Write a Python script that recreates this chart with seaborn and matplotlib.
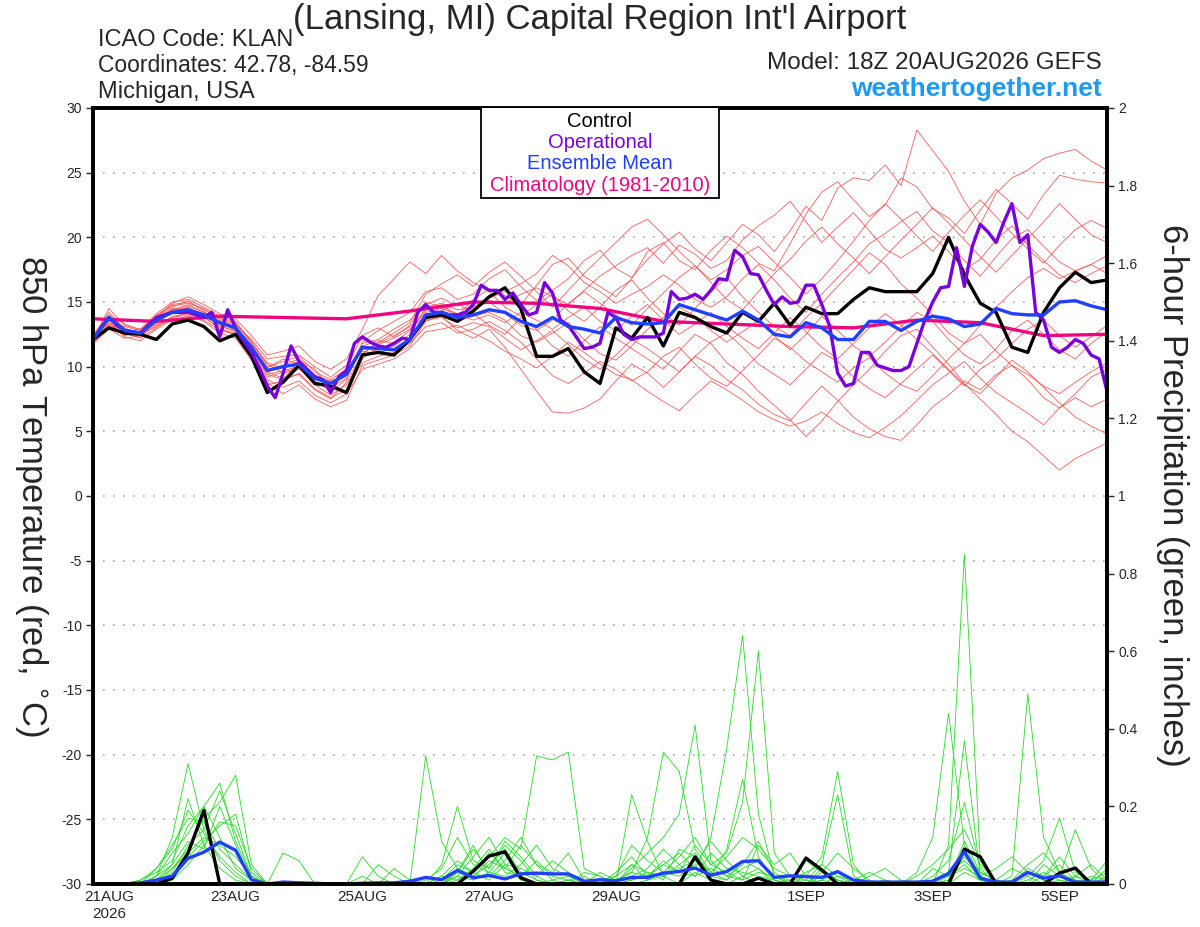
import numpy as np
import pandas as pd
import matplotlib
matplotlib.use("Agg")
import matplotlib.pyplot as plt
import seaborn as sns
from matplotlib import font_manager
from matplotlib.patches import Rectangle

# ---- data -------------------------------------------------------------
run_start = "2026-08-20 18:00"
times6 = pd.date_range(run_start, periods=65, freq="6h")
times3 = pd.date_range(run_start, periods=129, freq="3h")
clim_times = pd.date_range(run_start, periods=17, freq="24h")

tick_dates = pd.to_datetime(["2026-08-21", "2026-08-23", "2026-08-25", "2026-08-27",
                             "2026-08-29", "2026-09-01", "2026-09-03", "2026-09-05"])
tick_labels = ["21AUG\n2026", "23AUG", "25AUG", "27AUG", "29AUG", "1SEP", "3SEP", "5SEP"]

control_temp = [12.1, 13.0, 12.6, 12.5, 12.1, 13.3, 13.6, 13.1, 12.0, 12.5, 10.8, 8.0, 8.8,
                10.1, 8.7, 8.5, 8.0, 10.9, 11.1, 10.9, 12.1, 13.8, 14.0, 13.5, 14.3, 15.4,
                16.1, 14.5, 10.8, 10.8, 11.4, 9.6, 8.7, 13.0, 12.2, 13.8, 11.6, 14.2, 13.8,
                13.1, 12.6, 14.2, 13.5, 14.9, 13.2, 14.6, 14.1, 14.1, 15.2, 16.1, 15.8, 15.8,
                15.8, 17.2, 20.0, 17.1, 14.9, 14.2, 11.5, 11.1, 14.2, 16.1, 17.3, 16.5, 16.7]

mean_temp = [12.1, 13.8, 12.8, 12.6, 13.6, 14.2, 14.4, 14.0, 13.4, 13.0, 11.5, 9.7, 10.0,
             10.2, 9.1, 8.7, 9.4, 11.5, 11.4, 11.3, 12.1, 14.0, 14.2, 13.8, 14.0, 14.4,
             14.2, 13.5, 13.1, 13.8, 13.1, 12.9, 12.6, 13.8, 13.4, 13.3, 13.4, 14.8, 14.4,
             14.0, 13.6, 14.3, 13.6, 12.5, 12.3, 13.4, 13.0, 12.1, 12.1, 13.5, 13.5, 12.8,
             13.5, 13.9, 13.7, 13.1, 13.3, 14.5, 14.1, 14.0, 14.0, 15.0, 15.1, 14.7, 14.4]

# operational run is 3-hourly
oper_temp = [12.1, 13.0, 13.8, 13.2, 12.8, 12.7, 12.6, 13.2, 13.8, 14.0, 14.2, 14.2, 14.2,
             14.0, 13.8, 14.2, 12.3, 14.4, 13.0, 12.0, 11.1, 9.9, 8.5, 7.6, 9.5, 11.6,
             10.4, 9.8, 9.2, 9.0, 8.0, 9.2, 9.7, 11.8, 12.3, 11.9, 11.6, 11.5, 11.8,
             12.2, 12.1, 14.2, 14.8, 14.2, 14.2, 14.0, 14.0, 14.2, 14.8, 16.3, 15.9, 15.9,
             15.2, 15.7, 14.8, 14.0, 14.2, 16.5, 15.7, 13.6, 13.2, 12.3, 11.4, 11.5, 11.8,
             14.2, 13.8, 12.5, 12.1, 12.3, 12.3, 12.3, 12.6, 15.8, 15.2, 15.3, 15.6, 15.2,
             15.9, 16.8, 16.7, 19.0, 18.5, 17.2, 17.1, 15.9, 14.8, 15.4, 14.9, 15.0, 16.3,
             16.3, 14.8, 13.1, 9.5, 8.5, 8.7, 11.1, 11.1, 10.1, 9.9, 9.7, 9.7, 10.0,
             11.8, 13.6, 15.0, 16.1, 16.2, 19.2, 16.2, 19.3, 21.0, 20.4, 19.6, 21.2, 22.6,
             19.6, 20.2, 14.2, 13.6, 11.5, 11.1, 11.5, 12.1, 11.8, 10.9, 10.6, 8.1]

clim_temp = [13.7, 13.5, 13.9, 13.8, 13.7, 14.3, 15.0, 14.9, 14.5, 13.5, 13.3, 13.1,
             13.0, 13.6, 13.4, 12.4, 12.5]

member_temp = [
    [12.0, 14.5, 13.2, 12.9, 14.1, 15.0, 15.2, 14.6, 13.9, 13.5, 11.8, 10.2, 9.5,
     9.8, 8.9, 8.1, 9.0, 11.9, 12.8, 13.5, 14.2, 15.8, 16.1, 15.2, 15.6, 16.8,
     17.5, 16.2, 15.1, 15.9, 16.8, 18.2, 19.0, 17.6, 16.9, 18.3, 19.5, 20.4, 19.1,
     18.2, 19.6, 21.0, 20.2, 18.9, 20.5, 22.4, 21.3, 23.8, 24.6, 24.4, 25.6, 24.0,
     28.3, 26.7, 25.1, 22.8, 21.0, 23.4, 24.6, 25.2, 26.1, 26.5, 26.8, 25.9, 25.2],
    [12.3, 13.9, 13.0, 12.5, 13.8, 14.6, 15.1, 14.3, 13.1, 12.8, 11.0, 9.4, 9.0,
     10.5, 9.8, 8.3, 9.9, 12.4, 13.0, 12.3, 13.2, 15.0, 14.6, 13.9, 15.2, 16.0,
     15.5, 14.8, 16.3, 17.9, 18.4, 17.0, 16.2, 15.4, 16.8, 18.9, 19.6, 18.2, 17.5,
     19.0, 20.1, 19.2, 18.0, 17.4, 19.5, 21.8, 23.5, 24.3, 22.9, 21.6, 22.5, 24.6,
     23.9, 22.2, 21.5, 20.3, 22.1, 23.7, 22.6, 21.4, 23.3, 24.8, 24.5, 24.3, 24.2],
    [11.9, 13.2, 12.6, 12.2, 13.0, 13.9, 14.1, 13.8, 13.0, 12.4, 10.9, 8.8, 7.9,
     8.6, 7.5, 6.9, 7.4, 10.1, 10.5, 10.9, 11.6, 13.5, 13.9, 12.8, 12.2, 12.9,
     11.5, 9.8, 8.1, 6.5, 6.4, 6.8, 7.5, 8.9, 10.2, 9.5, 8.4, 9.6, 10.8,
     10.1, 9.0, 8.2, 7.1, 6.3, 5.8, 7.2, 8.5, 7.4, 6.1, 5.2, 4.6, 4.3,
     5.5, 6.9, 7.8, 8.9, 8.2, 9.4, 10.1, 9.0, 7.6, 6.8, 7.9, 9.2, 9.8],
    [12.2, 13.5, 12.4, 12.7, 13.3, 14.4, 14.8, 14.2, 13.6, 13.2, 12.1, 10.6, 10.8,
     10.9, 10.0, 9.2, 10.1, 11.0, 11.8, 12.4, 13.1, 13.8, 14.3, 14.9, 14.1, 13.2,
     12.5, 13.8, 12.9, 11.6, 10.8, 12.0, 13.1, 12.2, 11.4, 10.6, 9.8, 11.2, 12.5,
     11.8, 10.3, 9.4, 8.1, 7.0, 5.9, 4.6, 5.8, 7.3, 8.6, 9.8, 11.2, 12.4,
     12.9, 11.5, 10.2, 8.7, 7.5, 6.3, 5.0, 4.2, 3.1, 2.0, 2.9, 3.5, 4.1],
    [12.0, 13.6, 13.1, 12.8, 14.0, 14.7, 14.9, 14.5, 13.8, 13.4, 12.0, 10.0, 10.4,
     10.8, 9.6, 9.0, 9.8, 11.2, 11.0, 11.6, 12.5, 14.6, 14.9, 14.4, 14.6, 15.3,
     15.8, 16.4, 17.2, 18.6, 17.8, 16.5, 15.8, 14.9, 15.6, 16.2, 17.1, 16.3, 15.2,
     14.6, 15.4, 16.8, 17.9, 16.7, 15.3, 14.2, 15.6, 16.9, 18.1, 19.5, 20.3, 21.2,
     22.0, 20.5, 19.6, 18.2, 17.0, 18.5, 19.9, 20.6, 19.3, 18.1, 17.4, 17.9, 18.6],
    [11.8, 12.9, 12.2, 12.4, 13.2, 13.8, 14.0, 13.5, 12.6, 12.2, 10.5, 8.6, 8.9,
     9.5, 8.3, 7.6, 8.2, 10.3, 10.8, 11.1, 11.8, 13.1, 13.4, 12.6, 12.9, 13.5,
     12.8, 11.9, 10.6, 9.3, 8.7, 9.5, 10.4, 9.8, 8.9, 9.6, 10.8, 11.5, 10.2,
     9.1, 8.5, 9.7, 10.9, 12.2, 11.5, 10.4, 9.6, 8.8, 9.9, 10.7, 9.5, 8.6,
     8.1, 9.3, 10.6, 11.8, 12.5, 11.2, 10.1, 9.4, 8.5, 7.9, 8.8, 9.6, 10.3],
    [12.4, 14.2, 12.9, 12.6, 13.9, 14.9, 15.4, 14.8, 14.1, 13.7, 12.4, 10.9, 11.2,
     11.6, 10.4, 9.8, 10.6, 12.9, 15.5, 16.8, 18.1, 17.2, 18.6, 17.4, 16.5, 15.8,
     14.6, 13.9, 14.8, 15.6, 14.3, 13.5, 14.6, 15.9, 16.7, 15.3, 14.1, 13.2, 14.5,
     15.8, 16.9, 15.4, 14.2, 13.1, 12.4, 13.8, 14.9, 16.2, 17.5, 18.8, 17.9, 16.4,
     15.3, 14.0, 12.6, 11.8, 13.2, 14.6, 15.8, 16.9, 17.6, 16.8, 17.4, 17.9, 17.2],
    [12.1, 13.1, 12.5, 12.3, 13.4, 14.2, 14.6, 14.0, 13.3, 12.9, 11.4, 9.4, 9.7,
     10.0, 8.8, 8.4, 9.1, 11.4, 11.2, 11.0, 12.0, 13.9, 14.0, 13.5, 13.9, 14.2,
     13.6, 12.4, 11.9, 12.6, 13.4, 12.1, 11.0, 10.5, 11.6, 12.9, 13.8, 14.6, 13.9,
     12.8, 11.9, 12.7, 13.6, 12.4, 11.3, 12.5, 13.9, 12.8, 11.6, 10.8, 11.9, 13.1,
     14.2, 13.5, 12.1, 10.9, 10.2, 11.4, 12.8, 13.6, 12.5, 11.3, 10.6, 11.8, 12.7],
    [12.2, 13.8, 12.7, 12.9, 13.7, 14.4, 14.5, 14.1, 13.5, 13.1, 11.7, 9.9, 10.6,
     10.2, 9.2, 8.7, 9.6, 11.8, 12.1, 12.9, 13.6, 14.8, 15.3, 14.7, 14.9, 15.1,
     14.9, 15.6, 16.1, 15.4, 14.8, 15.9, 17.0, 17.8, 18.6, 19.2, 18.0, 19.4, 18.7,
     17.6, 18.2, 19.8, 20.9, 21.7, 22.8, 21.2, 19.6, 20.8, 21.9, 20.5, 19.1, 18.4,
     19.2, 20.1, 18.9, 17.5, 18.3, 19.8, 20.9, 19.4, 18.2, 17.1, 16.5, 17.2, 17.8],
    [11.9, 13.4, 12.3, 12.0, 12.9, 13.6, 13.9, 13.6, 12.8, 12.5, 10.8, 9.0, 8.4,
     8.9, 7.8, 7.2, 7.9, 9.8, 10.2, 10.6, 11.4, 12.7, 12.9, 13.2, 12.6, 12.0,
     11.2, 10.6, 9.9, 10.8, 11.9, 11.1, 10.2, 9.4, 9.0, 8.1, 7.3, 6.6, 7.8,
     8.9, 8.2, 7.4, 6.5, 5.9, 5.4, 5.8, 6.5, 5.6, 4.9, 4.5, 5.3, 6.2,
     7.4, 8.6, 9.5, 10.4, 9.1, 8.0, 7.2, 6.4, 5.5, 6.8, 7.6, 6.9, 7.5],
    [12.3, 14.0, 13.3, 12.8, 13.8, 14.8, 15.0, 14.4, 13.7, 13.3, 11.9, 10.3, 9.9,
     10.4, 9.4, 8.8, 9.5, 11.6, 12.0, 11.8, 12.8, 14.4, 14.8, 14.0, 14.5, 15.0,
     14.1, 13.2, 12.8, 13.6, 14.9, 15.8, 14.9, 14.0, 13.2, 14.5, 15.7, 16.9, 17.8,
     16.5, 15.2, 14.4, 15.8, 17.2, 18.3, 19.7, 20.8, 19.5, 18.4, 17.2, 18.5, 19.8,
     21.0, 22.3, 21.1, 19.8, 18.5, 17.3, 18.6, 19.9, 21.2, 22.6, 21.4, 20.2, 19.6],
    [11.8, 13.0, 12.6, 12.5, 13.1, 13.7, 14.3, 13.9, 12.9, 12.6, 10.9, 9.2, 9.6,
     9.9, 8.6, 7.8, 8.6, 10.6, 11.5, 11.3, 11.9, 13.6, 13.8, 13.0, 13.4, 13.1,
     12.2, 11.3, 12.0, 12.8, 11.7, 10.6, 9.8, 10.9, 12.1, 11.4, 10.5, 9.6, 10.8,
     11.9, 12.6, 11.5, 10.2, 9.4, 8.6, 9.8, 11.1, 10.4, 9.2, 8.3, 7.6, 8.7,
     9.8, 10.9, 9.7, 8.5, 9.8, 10.6, 11.8, 12.9, 13.6, 12.4, 11.5, 12.3, 13.2],
    [12.1, 13.3, 12.8, 12.4, 13.5, 14.3, 14.7, 14.2, 13.4, 12.8, 11.2, 9.6, 9.1,
     9.4, 8.2, 7.5, 8.8, 11.0, 11.9, 12.6, 13.4, 15.6, 16.4, 17.1, 16.2, 17.3,
     18.1, 17.0, 15.8, 14.6, 15.9, 17.2, 18.4, 19.6, 20.8, 21.4, 20.2, 18.9, 17.8,
     16.7, 17.5, 18.6, 19.3, 18.1, 16.9, 15.6, 16.8, 18.2, 19.7, 21.3, 22.6, 21.4,
     20.1, 18.9, 20.4, 21.7, 22.9, 21.6, 20.3, 19.1, 18.0, 19.4, 20.6, 21.3, 20.7],
    [12.0, 13.7, 12.9, 12.6, 13.6, 14.5, 14.4, 13.9, 13.2, 12.7, 11.3, 9.8, 10.1,
     10.6, 9.3, 8.9, 9.4, 11.3, 11.7, 12.2, 12.9, 14.2, 14.5, 14.1, 13.6, 14.0,
     13.4, 14.2, 13.6, 12.9, 13.8, 14.6, 13.5, 12.8, 13.9, 14.8, 13.6, 12.5, 13.3,
     14.2, 13.1, 12.2, 11.4, 12.6, 13.8, 12.7, 11.5, 10.6, 11.8, 13.0, 14.1, 13.2,
     12.1, 11.0, 9.8, 8.6, 7.9, 9.2, 10.5, 9.6, 8.4, 7.2, 6.1, 5.4, 4.8],
]

control_precip = [0, 0, 0, 0, 0, 0.015, 0.08, 0.19, 0, 0, 0, 0, 0,
                  0, 0, 0, 0, 0, 0, 0, 0, 0, 0, 0, 0.033, 0.072,
                  0.083, 0.016, 0, 0, 0, 0, 0, 0, 0, 0, 0, 0, 0.07,
                  0.01, 0, 0, 0.015, 0, 0, 0.067, 0.036, 0, 0, 0, 0, 0,
                  0, 0, 0, 0.09, 0.07, 0, 0, 0, 0, 0.028, 0.041, 0, 0]

mean_precip = [0, 0, 0, 0.003, 0.01, 0.02, 0.066, 0.082, 0.108, 0.087, 0.011, 0, 0.005,
               0.003, 0.002, 0, 0, 0.002, 0.003, 0.003, 0.007, 0.017, 0.011, 0.035, 0.016, 0.022,
               0.013, 0.026, 0.028, 0.026, 0.026, 0.007, 0.011, 0.008, 0.017, 0.017, 0.028, 0.032, 0.041,
               0.023, 0.032, 0.058, 0.06, 0.017, 0.021, 0.019, 0.017, 0.032, 0.01, 0.005, 0.005, 0.005,
               0.005, 0.007, 0.027, 0.083, 0.015, 0.005, 0.005, 0.03, 0.015, 0.021, 0.005, 0.005, 0.005]

member_precip = [
    [0, 0, 0, 0, 0.02, 0.12, 0.31, 0.14, 0.06, 0.02, 0, 0, 0,
     0, 0, 0, 0, 0, 0, 0, 0, 0, 0.01, 0.05, 0.03, 0.08,
     0.04, 0.02, 0, 0, 0.01, 0, 0, 0.01, 0.03, 0.02, 0.05, 0.08, 0.04,
     0.12, 0.35, 0.64, 0.18, 0.02, 0, 0, 0.01, 0.03, 0, 0, 0, 0,
     0, 0.02, 0.06, 0.21, 0.04, 0, 0, 0.03, 0.01, 0, 0, 0.02, 0.01],
    [0, 0, 0, 0, 0, 0.04, 0.09, 0.17, 0.21, 0.28, 0.05, 0, 0,
     0, 0, 0, 0, 0, 0, 0, 0, 0, 0, 0.02, 0.07, 0.12,
     0.05, 0.01, 0, 0, 0, 0, 0, 0, 0.01, 0.02, 0.06, 0.03, 0.1,
     0.05, 0.08, 0.21, 0.6, 0.08, 0.02, 0, 0.04, 0.01, 0, 0, 0, 0,
     0, 0, 0.1, 0.85, 0.06, 0, 0, 0.04, 0.02, 0.07, 0.02, 0, 0],
    [0, 0, 0, 0.01, 0.03, 0.06, 0.15, 0.2, 0.26, 0.11, 0.02, 0, 0,
     0, 0, 0, 0, 0, 0, 0, 0, 0, 0, 0.01, 0.03, 0.07,
     0.12, 0.09, 0.33, 0.32, 0.34, 0.04, 0.02, 0, 0, 0.01, 0.02, 0, 0.03,
     0.01, 0, 0.02, 0.04, 0, 0, 0.01, 0.05, 0.23, 0.02, 0, 0, 0,
     0, 0.01, 0.03, 0.37, 0.02, 0, 0, 0, 0.05, 0.02, 0, 0, 0.01],
    [0, 0, 0, 0, 0.01, 0.05, 0.22, 0.1, 0.04, 0.01, 0, 0, 0.08,
     0.06, 0, 0, 0, 0, 0, 0, 0, 0.33, 0.11, 0.04, 0.02, 0.05,
     0.09, 0.03, 0.01, 0, 0, 0, 0, 0, 0.04, 0.08, 0.12, 0.18, 0.41,
     0.06, 0.02, 0.01, 0.03, 0.02, 0, 0, 0, 0.02, 0.01, 0, 0, 0,
     0.03, 0.12, 0.44, 0.1, 0.02, 0, 0, 0, 0, 0.01, 0, 0, 0],
    [0, 0, 0, 0, 0.02, 0.08, 0.13, 0.2, 0.12, 0.04, 0.01, 0, 0,
     0, 0, 0, 0, 0.07, 0.02, 0, 0, 0, 0.05, 0.2, 0.06, 0.04,
     0.11, 0.07, 0.02, 0, 0, 0, 0, 0.01, 0.03, 0.12, 0.34, 0.29, 0.09,
     0.03, 0.01, 0.06, 0.04, 0.01, 0, 0.02, 0.07, 0.29, 0.05, 0, 0, 0,
     0, 0, 0.02, 0.05, 0.01, 0, 0.02, 0.49, 0.12, 0.03, 0, 0, 0.02],
    [0, 0, 0, 0, 0, 0.02, 0.07, 0.11, 0.15, 0.18, 0.03, 0, 0,
     0, 0, 0, 0, 0, 0, 0.04, 0.01, 0, 0, 0.03, 0.1, 0.02,
     0.06, 0.12, 0.05, 0.01, 0, 0.03, 0.02, 0, 0.23, 0.11, 0.02, 0.04, 0.06,
     0.02, 0.09, 0.27, 0.07, 0.01, 0, 0.06, 0.03, 0.01, 0, 0.02, 0.04, 0.01,
     0, 0, 0.01, 0.07, 0.03, 0.01, 0, 0.02, 0.06, 0.17, 0.03, 0.01, 0.03],
    [0, 0, 0, 0, 0.04, 0.1, 0.17, 0.16, 0.09, 0.05, 0.01, 0, 0,
     0, 0, 0, 0, 0, 0, 0, 0, 0, 0.02, 0.01, 0.04, 0.09,
     0.03, 0.02, 0.06, 0.02, 0.01, 0, 0.01, 0.02, 0.05, 0.01, 0.03, 0.07, 0.12,
     0.05, 0.03, 0.01, 0.1, 0.05, 0.08, 0.02, 0, 0, 0, 0, 0, 0,
     0, 0.04, 0.02, 0.08, 0.03, 0.01, 0.04, 0.02, 0, 0.02, 0.14, 0.04, 0],
    [0, 0, 0, 0, 0, 0.03, 0.1, 0.14, 0.24, 0.13, 0.02, 0, 0,
     0, 0, 0, 0, 0, 0.05, 0.02, 0, 0, 0, 0.04, 0.02, 0.06,
     0.04, 0.1, 0.05, 0.03, 0.08, 0.01, 0, 0.02, 0.1, 0.06, 0.03, 0.02, 0.05,
     0.11, 0.06, 0.02, 0, 0, 0.01, 0.03, 0.05, 0.02, 0, 0, 0, 0,
     0, 0, 0, 0.03, 0.01, 0, 0, 0.03, 0.01, 0, 0.02, 0.05, 0.01],
    [0, 0, 0, 0, 0.01, 0.04, 0.08, 0.12, 0.1, 0.07, 0.02, 0, 0,
     0, 0, 0, 0, 0.02, 0, 0, 0, 0.01, 0.04, 0.12, 0.05, 0.03,
     0.08, 0.02, 0, 0.01, 0.02, 0, 0.03, 0.01, 0.02, 0.04, 0.09, 0.05, 0.02,
     0.04, 0.02, 0.05, 0.11, 0.03, 0, 0, 0.02, 0.01, 0, 0, 0.01, 0,
     0.02, 0.05, 0.09, 0.14, 0.05, 0.01, 0, 0.01, 0.03, 0.01, 0, 0, 0],
    [0, 0, 0, 0, 0, 0.01, 0.05, 0.1, 0.16, 0.15, 0.04, 0, 0,
     0, 0, 0, 0, 0, 0, 0, 0, 0, 0.02, 0.06, 0.03, 0.01,
     0.05, 0.04, 0.02, 0.06, 0.03, 0, 0, 0, 0.05, 0.03, 0.01, 0.09, 0.07,
     0.03, 0.07, 0.12, 0.09, 0.04, 0.02, 0.01, 0, 0, 0, 0, 0, 0,
     0, 0.01, 0.03, 0.06, 0.02, 0, 0.01, 0.05, 0.08, 0.03, 0.01, 0, 0.04],
    [0, 0, 0, 0.01, 0.04, 0.09, 0.19, 0.13, 0.07, 0.03, 0, 0, 0,
     0, 0, 0, 0, 0, 0, 0, 0, 0, 0, 0.02, 0.01, 0.03,
     0.02, 0.05, 0.1, 0.04, 0.02, 0.01, 0, 0.03, 0.07, 0.02, 0.05, 0.03, 0.02,
     0.08, 0.04, 0.03, 0.02, 0.01, 0, 0, 0.01, 0, 0.01, 0.03, 0.01, 0,
     0, 0, 0.01, 0.11, 0.03, 0.01, 0, 0, 0.02, 0.05, 0.01, 0, 0],
    [0, 0, 0, 0, 0.02, 0.05, 0.11, 0.09, 0.2, 0.1, 0.01, 0, 0,
     0, 0, 0, 0, 0, 0, 0, 0, 0, 0, 0.03, 0.09, 0.04,
     0.1, 0.06, 0.01, 0, 0.01, 0.02, 0, 0, 0.01, 0.03, 0.02, 0.05, 0.08,
     0.02, 0.01, 0.04, 0.06, 0.02, 0.01, 0, 0.03, 0.08, 0.04, 0.01, 0, 0,
     0, 0.01, 0.02, 0.04, 0.02, 0.04, 0.07, 0.03, 0.01, 0, 0.02, 0.01, 0.06],
]

# ---- long tables for seaborn -----------------------------------------
temp_df = pd.concat([pd.DataFrame({"time": times6, "temp": vals, "member": k})
                     for k, vals in enumerate(member_temp)], ignore_index=True)
precip_df = pd.concat([pd.DataFrame({"time": times6, "precip": vals, "member": k})
                       for k, vals in enumerate(member_precip)], ignore_index=True)

# ---- style ------------------------------------------------------------
sns.set_style("white")
names = {f.name for f in font_manager.fontManager.ttflist}
narrow = "Liberation Sans Narrow" if "Liberation Sans Narrow" in names else "Liberation Sans"
plt.rcParams["font.family"] = ["Liberation Sans", "DejaVu Sans"]

RED = "#ff4a4a"
GREEN = "#22dd22"
PURPLE = "#7a00dc"
BLUE = "#2040ff"
PINK = "#f0047f"

fig = plt.figure(figsize=(12, 9.27), dpi=100)
ax = fig.add_axes([0.0775, 0.0464, 0.845, 0.8371])
ax2 = ax.twinx()

# temperature members
sns.lineplot(data=temp_df, x="time", y="temp", units="member", estimator=None,
             color=RED, linewidth=0.6, alpha=0.9, ax=ax, legend=False)
# precipitation members
sns.lineplot(data=precip_df, x="time", y="precip", units="member", estimator=None,
             color=GREEN, linewidth=0.6, ax=ax2, legend=False)

# temperature main lines
sns.lineplot(x=clim_times, y=clim_temp, color=PINK, linewidth=2.4, ax=ax)
sns.lineplot(x=times6, y=control_temp, color="black", linewidth=2.4, ax=ax)
sns.lineplot(x=times3, y=oper_temp, color=PURPLE, linewidth=2.4, ax=ax)
sns.lineplot(x=times6, y=mean_temp, color=BLUE, linewidth=2.4, ax=ax)
# precipitation main lines
sns.lineplot(x=times6, y=control_precip, color="black", linewidth=2.4, ax=ax2)
sns.lineplot(x=times6, y=mean_precip, color=BLUE, linewidth=2.4, ax=ax2)

ax.set_zorder(2)
ax.patch.set_visible(False)
ax2.set_zorder(1)

# axes limits / ticks
ax.set_xlim(times6[0], times6[-1])
ax.set_ylim(-30, 30)
ax.set_yticks(np.arange(-30, 31, 5))
ax.set_yticklabels([str(v) for v in range(-30, 31, 5)])
ax2.set_ylim(0, 2)
ax2.set_yticks(np.arange(0, 2.01, 0.2))
ax2.set_yticklabels(["%g" % round(v, 1) for v in np.arange(0, 2.01, 0.2)])
ax.set_xticks(tick_dates)
ax.set_xticklabels(tick_labels, linespacing=1.3)
ax.set_xlabel("")
ax.set_ylabel("")
ax2.set_ylabel("")

ax.tick_params(axis="y", direction="out", length=5, width=1, labelsize=10, pad=3)
ax.tick_params(axis="x", direction="in", length=5, width=1, labelsize=11, pad=4)
ax2.tick_params(axis="y", direction="out", length=5, width=1, labelsize=10, pad=3)

for gv in range(-25, 26, 5):
    ax.axhline(gv, color="#aaaaaa", linewidth=1.2, linestyle=(0, (1, 5)), zorder=0)

for a in (ax, ax2):
    for sp in a.spines.values():
        sp.set_linewidth(2.6)
        sp.set_color("black")

# legend box
ax.add_patch(Rectangle((0.3826, 0.884), 0.2348, 0.118, transform=ax.transAxes,
                       facecolor="white", edgecolor="black", linewidth=1.3, zorder=5))
leg_items = [("Control", "black"), ("Operational", PURPLE),
             ("Ensemble Mean", BLUE), ("Climatology (1981-2010)", PINK)]
for k, (txt, col) in enumerate(leg_items):
    ax.text(0.5, 0.983 - k * 0.0275, txt, color=col, fontsize=14.5, ha="center",
            va="center", transform=ax.transAxes, zorder=6)

# header texts
fig.text(0.5, 0.979, "(Lansing, MI) Capital Region Int'l Airport", ha="center",
         va="center", fontsize=25, family=narrow)
fig.text(0.0817, 0.957, "ICAO Code: KLAN", ha="left", va="center", fontsize=17, family=narrow)
fig.text(0.0817, 0.929, "Coordinates: 42.78, -84.59", ha="left", va="center",
         fontsize=16.5, family=narrow)
fig.text(0.0817, 0.901, "Michigan, USA", ha="left", va="center", fontsize=17, family=narrow)
fig.text(0.9183, 0.932, "Model: 18Z 20AUG2026 GEFS", ha="right", va="center",
         fontsize=17.5, family=narrow)
fig.text(0.9183, 0.904, "weathertogether.net", ha="right", va="center", fontsize=19,
         family=narrow, weight="bold", color="#1e9bf0")

fig.text(0.026, 0.465, "850 hPa Temperature (red, $^{\\circ}$C)", rotation=270,
         ha="center", va="center", fontsize=25)
fig.text(0.977, 0.466, "6-hour Precipitation (green, inches)", rotation=270,
         ha="center", va="center", fontsize=25)

fig.savefig("out.png", dpi=100)
